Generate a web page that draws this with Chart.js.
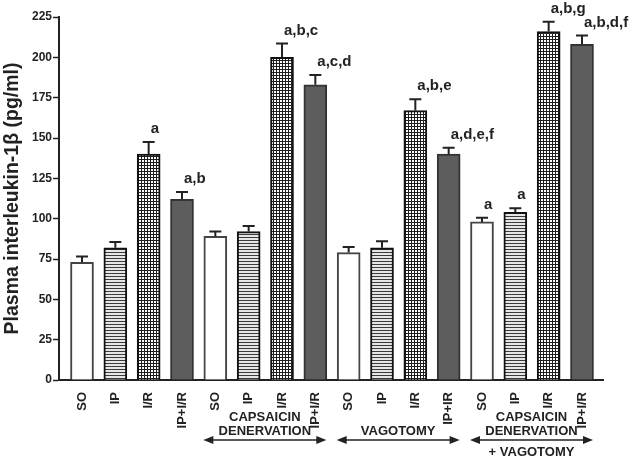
<!DOCTYPE html>
<html>
<head>
<meta charset="utf-8">
<script src="https://cdn.jsdelivr.net/npm/chart.js@4"></script>
<style>
  html, body { margin: 0; padding: 0; background: #fff; }
  #wrap { width: 629px; height: 459px; }
</style>
</head>
<body>
<div id="wrap"><canvas id="chart" width="629" height="459"></canvas></div>
<script>
// --- DATA ---
const barLabels = ['SO', 'IP', 'I/R', 'IP+I/R', 'SO', 'IP', 'I/R', 'IP+I/R',
                   'SO', 'IP', 'I/R', 'IP+IR', 'SO', 'IP', 'I/R', 'IP+I/R'];
const treatment = ['SO', 'IP', 'IR', 'IPIR', 'SO', 'IP', 'IR', 'IPIR',
                   'SO', 'IP', 'IR', 'IPIR', 'SO', 'IP', 'IR', 'IPIR'];
const means  = [73, 82, 140, 112, 89, 92, 200, 183, 79, 82, 167, 140, 98, 104, 216, 208];
const errors = [3.5, 3.5, 7.5, 4.5, 3, 3.5, 8.5, 6, 3.5, 4, 7, 4, 2.5, 2.5, 6, 5.5];
const marks  = ['', '', 'a', 'a,b', '', '', 'a,b,c', 'a,c,d',
                '', '', 'a,b,e', 'a,d,e,f', 'a', 'a', 'a,b,g', 'a,b,d,f'];
const groups = [
  { from: 4, to: 7, lines: ['CAPSAICIN', 'DENERVATION'], below: [] },
  { from: 8, to: 11, lines: ['VAGOTOMY'], below: [] },
  { from: 12, to: 15, lines: ['CAPSAICIN', 'DENERVATION'], below: ['+ VAGOTOMY'] }
];
const yTicks = [0, 25, 50, 75, 100, 125, 150, 175, 200, 225];

// --- PATTERNS ---
function makePattern(draw, w, h) {
  const c = document.createElement('canvas');
  c.width = w; c.height = h;
  const g = c.getContext('2d');
  draw(g);
  return g.createPattern(c, 'repeat');
}
const ctx = document.getElementById('chart').getContext('2d');
const stripes = makePattern(g => {
  g.fillStyle = '#e6e6e6'; g.fillRect(0, 0, 4, 3);
  g.fillStyle = '#3a3a3a'; g.fillRect(0, 0, 4, 1);
}, 4, 3);
const grid = makePattern(g => {
  g.fillStyle = '#ffffff'; g.fillRect(0, 0, 3, 3);
  g.fillStyle = '#1e1e1e'; g.fillRect(0, 0, 3, 1); g.fillRect(0, 0, 1, 3);
}, 3, 3);
const fills = { SO: '#ffffff', IP: stripes, IR: grid, IPIR: '#5d5d5d' };
const borders = { SO: '#444', IP: '#111', IR: '#111', IPIR: '#333' };

// --- PLUGINS ---
// one-sided error bars + significance letters above them
const errorBars = {
  id: 'errorBars',
  afterDatasetsDraw(chart) {
    const { ctx, scales: { x, y } } = chart;
    ctx.save();
    ctx.strokeStyle = '#222';
    ctx.lineWidth = 2;
    ctx.font = 'bold 15px "Liberation Sans", Arial, sans-serif';
    ctx.fillStyle = '#222';
    ctx.textBaseline = 'alphabetic';
    means.forEach((m, i) => {
      const px = x.getPixelForValue(i);
      const top = y.getPixelForValue(m);
      const cap = y.getPixelForValue(m + errors[i]);
      ctx.beginPath();
      ctx.moveTo(px, top); ctx.lineTo(px, cap);
      ctx.moveTo(px - 6, cap); ctx.lineTo(px + 6, cap);
      ctx.stroke();
      if (marks[i]) {
        ctx.textAlign = 'left';
        ctx.fillText(marks[i], px + 2, cap - 9);
      }
    });
    ctx.restore();
  }
};

function arrow(ctx, x1, x2, yy) {
  ctx.beginPath();
  ctx.moveTo(x1 + 6, yy); ctx.lineTo(x2 - 6, yy);
  ctx.stroke();
  ctx.beginPath();
  ctx.moveTo(x1, yy); ctx.lineTo(x1 + 10, yy - 4); ctx.lineTo(x1 + 10, yy + 4); ctx.closePath();
  ctx.moveTo(x2, yy); ctx.lineTo(x2 - 10, yy - 4); ctx.lineTo(x2 - 10, yy + 4); ctx.closePath();
  ctx.fill();
}

// group captions with double arrows under the x axis
const groupLabels = {
  id: 'groupLabels',
  afterDraw(chart) {
    const { ctx, scales: { x } } = chart;
    ctx.save();
    ctx.font = 'bold 13px "Liberation Sans", Arial, sans-serif';
    ctx.fillStyle = '#222';
    ctx.strokeStyle = '#222';
    ctx.lineWidth = 1.5;
    ctx.textAlign = 'center';
    ctx.textBaseline = 'middle';
    groups.forEach(gr => {
      const x1 = x.getPixelForValue(gr.from) - 12;
      const x2 = x.getPixelForValue(gr.to) + 11;
      const cx = (x1 + x2) / 2;
      const n = gr.lines.length;
      gr.lines.forEach((t, k) => ctx.fillText(t, cx, 431 - (n - 1 - k) * 14));
      arrow(ctx, x1, x2, 440);
      gr.below.forEach((t, k) => ctx.fillText(t, cx, 452 + k * 14));
    });
    ctx.restore();
  }
};

// --- CHART ---
new Chart(ctx, {
  type: 'bar',
  data: {
    datasets: [{
      data: means.map((v, i) => ({ x: i, y: v })),
      backgroundColor: treatment.map(t => fills[t]),
      borderColor: treatment.map(t => borders[t]),
      borderWidth: 2,
      borderSkipped: 'bottom',
      barThickness: 23
    }]
  },
  options: {
    responsive: false,
    animation: false,
    layout: { padding: { top: 17, right: 26, left: 0, bottom: 0 } },
    plugins: { legend: { display: false }, tooltip: { enabled: false } },
    scales: {
      x: {
        type: 'linear',
        offset: false,
        min: -0.69,
        max: 15.63,
        afterBuildTicks: s => { s.ticks = barLabels.map((_, i) => ({ value: i })); },
        afterFit: s => { s.height = 79; s.paddingLeft = 0; s.paddingRight = 0; },
        grid: { display: false, offset: false },
        border: { display: true, color: '#222', width: 2 },
        ticks: {
          autoSkip: false,
          minRotation: 90,
          maxRotation: 90,
          padding: 4,
          color: '#222',
          font: { family: '"Liberation Sans", Arial, sans-serif', size: 13, weight: 'bold' },
          callback: v => barLabels[v] || ''
        }
      },
      y: {
        min: 0,
        max: 225,
        afterBuildTicks: s => { s.ticks = yTicks.map(v => ({ value: v })); },
        afterFit: s => { s.width = 59; s.paddingTop = 0; s.paddingBottom = 0; },
        grid: { drawOnChartArea: false, tickLength: 6, tickWidth: 1.5, color: '#222' },
        border: { display: true, color: '#222', width: 2 },
        ticks: {
          padding: 1,
          color: '#222',
          font: { family: '"Liberation Sans", Arial, sans-serif', size: 12, weight: 'bold' }
        },
        title: {
          display: true,
          text: 'Plasma interleukin-1β (pg/ml)',
          color: '#222',
          padding: { top: 1, bottom: 0 },
          font: { family: '"Liberation Sans", Arial, sans-serif', size: 19.5, weight: 'bold' }
        }
      }
    }
  },
  plugins: [errorBars, groupLabels]
});
</script>
</body>
</html>
